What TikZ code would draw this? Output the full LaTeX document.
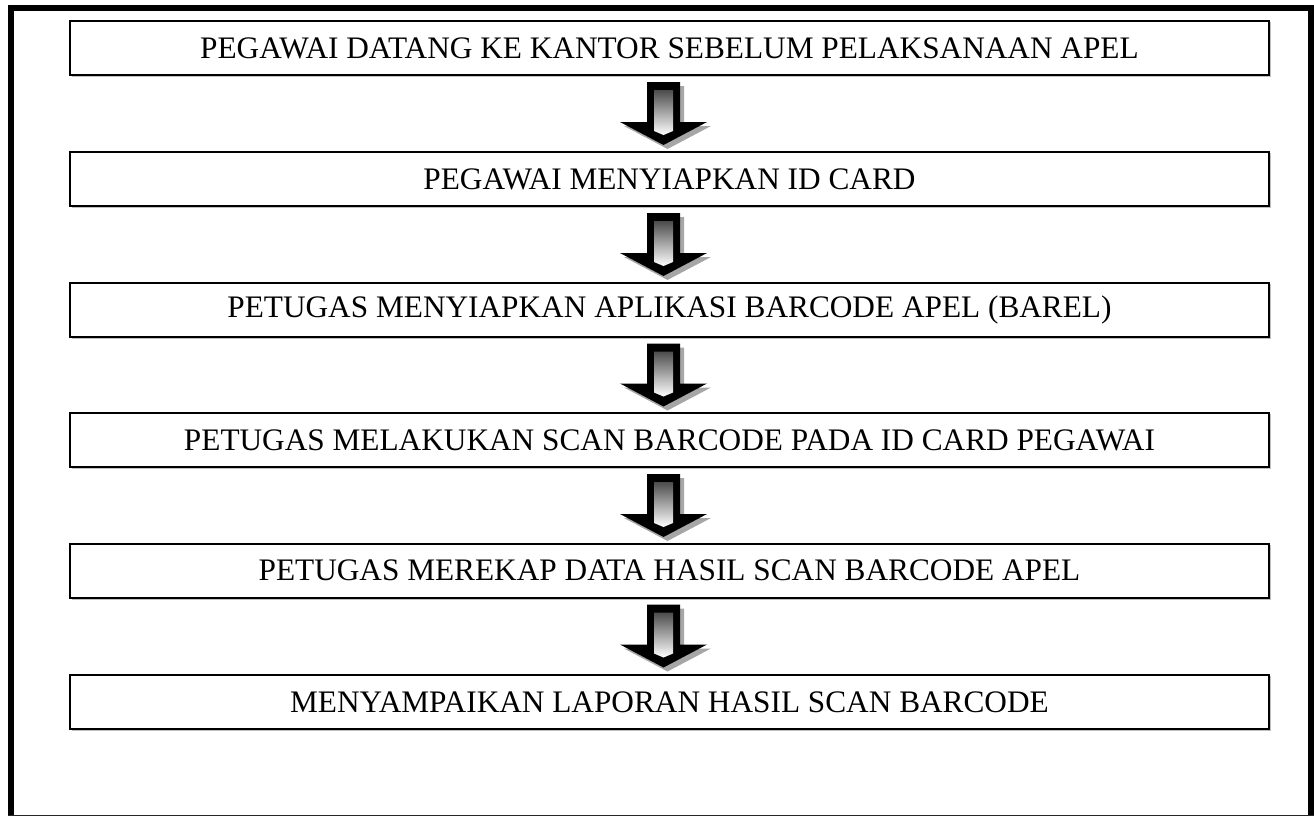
\documentclass[tikz,border=0pt]{standalone}
\usepackage{fontspec}
\setmainfont{Liberation Serif}
\usetikzlibrary{calc}
\tikzset{
  stepbox/.style={draw=black, line width=2pt, minimum width=1199pt, minimum height=54pt,
    inner sep=0pt, font=\fontsize{31.3}{36}\selectfont, anchor=center},
  boxshadow/.style={draw=black!25, line width=1.5pt},
  pics/blockarr/.style={code={
    \fill[black!35] (4,4) -- ++(16.5,0) -- ++(0,40) -- ++(27,0) -- ++(-43.5,23) -- ++(-43.5,-23) -- ++(27,0) -- cycle;
    \fill[black] (-16.5,0) -- (16.5,0) -- (16.5,40) -- (43.5,40) -- (0,63) -- (-43.5,40) -- (-16.5,40) -- cycle;
    \shade[top color=black!70, bottom color=white] (-9.5,8) -- (9.5,8) -- (9.5,49) -- (0,53) -- (-9.5,49) -- cycle;
  }}
}
\begin{document}
\begin{tikzpicture}[x=1pt,y=-1pt]
\useasboundingbox (0,0) rectangle (1314,817);
% outer frame
\fill[black] (8,5) rectangle (14,816);
\fill[black] (8,5) rectangle (1314,11);
\fill[black] (1308,5) rectangle (1314,816);
\draw[black!85, line width=1.5pt] (8,815.5) -- (1314,815.5);

\foreach \n/\y/\t in {b1/48/{PEGAWAI DATANG KE KANTOR SEBELUM PELAKSANAAN APEL},
                     b2/179/{PEGAWAI MENYIAPKAN ID CARD},
                     b3/309.5/{PETUGAS MENYIAPKAN APLIKASI BARCODE APEL (BAREL)},
                     b4/440/{PETUGAS MELAKUKAN SCAN BARCODE PADA ID CARD PEGAWAI},
                     b5/570.5/{PETUGAS MEREKAP DATA HASIL SCAN BARCODE APEL},
                     b6/702/{MENYAMPAIKAN LAPORAN HASIL SCAN BARCODE}}{
  \draw[boxshadow] (71.5,\y+28.5) -- (1270.5,\y+28.5) -- (1270.5,\y-26);
  \node[stepbox] (\n) at (669.5,\y) {\t};
}

\foreach \a/\b in {b1/b2,b2/b3,b3/b4,b4/b5,b5/b6}{
  \path ($(\a.south)+(-6,6)$) pic {blockarr};
}
\end{tikzpicture}
\end{document}
